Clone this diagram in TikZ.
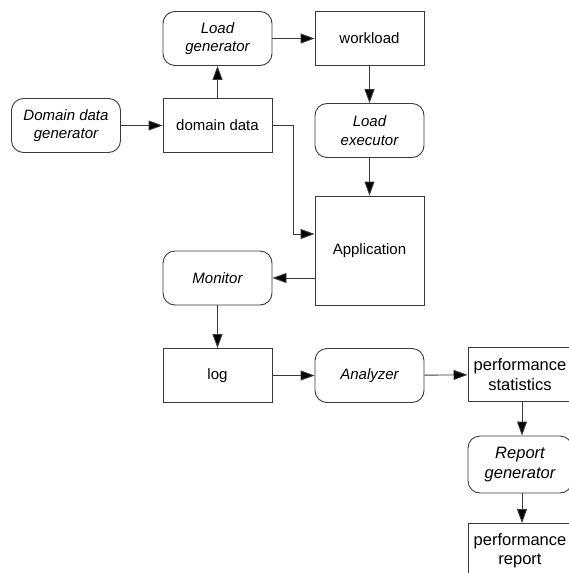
\documentclass[tikz,border=0pt]{standalone}
\usepackage{fontspec}
\setmainfont{Liberation Sans}
\usetikzlibrary{arrows.meta}
\definecolor{edge}{HTML}{3A3A3A}
\tikzset{
  box/.style={draw=edge, line width=0.9pt, minimum width=109pt, minimum height=54pt, inner sep=2pt, align=center, font=\fontsize{15}{18.5}\selectfont},
  proc/.style={box, rounded corners=12pt, font=\fontsize{15}{18.5}\selectfont\itshape},
  bigbox/.style={box, minimum width=104pt, font=\fontsize{16.5}{19.5}\selectfont},
  bigproc/.style={proc, minimum width=104pt, font=\fontsize{16.5}{19.5}\selectfont\itshape},
  conn/.style={draw=edge, line width=0.9pt, -{Triangle[length=14pt,width=10pt,fill=black]}}
}
\begin{document}
\begin{tikzpicture}[x=1pt,y=-1pt]
\useasboundingbox (0,0) rectangle (569,573);
\node[proc] (lg) at (217.5,38.5) {Load\\generator};
\node[box] (wl) at (369.5,38.5) {workload};
\node[proc] (ddg) at (66,125.5) {Domain data\\generator};
\node[box] (dd) at (217.5,125.5) {domain data};
\node[proc] (le) at (369.5,130.5) {Load\\executor};
\node[box, minimum height=109pt] (app) at (369.5,250.5) {Application};
\node[proc] (mon) at (217.5,278) {Monitor};
\node[box] (log) at (217.5,375.5) {log};
\node[proc] (ana) at (369.5,375.5) {Analyzer};
\node[bigbox] (ps) at (520,374.5) {performance\\statistics};
\node[bigproc, minimum height=57pt] (rg) at (520,464.5) {Report\\generator};
\node[bigbox] (pr) at (520,550.5) {performance\\report};
\coordinate (bend) at (293,234);
\coordinate (c1) at (522,0);
\draw[conn] (lg) -- (wl);
\draw[conn] (dd) -- (lg);
\draw[conn] (ddg) -- (dd);
\draw[conn] (wl) -- (le);
\draw[conn] (le) -- (app);
\draw[conn] (dd.east) -| (bend) -- (app.west |- bend);
\draw[conn] (app.west |- mon.east) -- (mon.east);
\draw[conn] (mon) -- (log);
\draw[conn] (log) -- (ana);
\draw[conn] (ana) -- (ps);
\draw[conn] (c1 |- ps.south) -- (c1 |- rg.north);
\draw[conn] (c1 |- rg.south) -- (c1 |- pr.north);
\end{tikzpicture}
\end{document}
